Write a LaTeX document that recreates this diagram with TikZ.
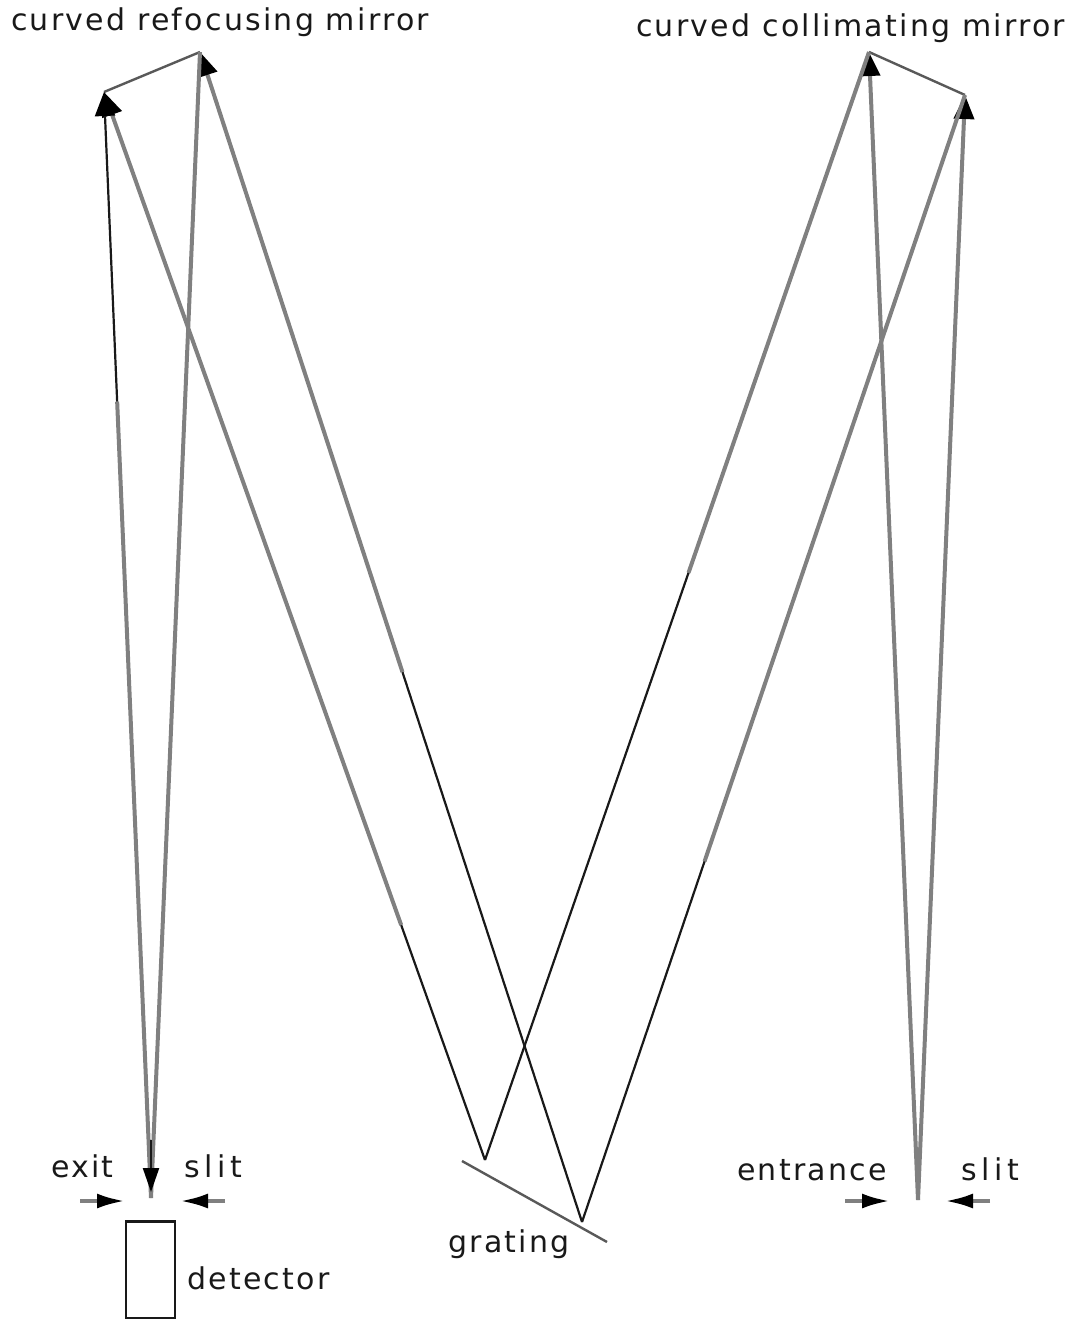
\documentclass[tikz,border=0pt]{standalone}
\usepackage{fontspec}
\setmainfont[LetterSpace=7.5]{DejaVu Sans}
\usetikzlibrary{
  arrows.meta,
  calc,
  positioning
}
\tikzset{
  >=stealth,
  line cap=round,
  line join=round,
  graybeam/.style={draw=black!50, line width=4pt},
  blackbeam/.style={draw=black!90, line width=2.2pt},
  mirrorline/.style={draw=black!65, line width=2.4pt},
  tiparrow/.style={-{Triangle[length=24pt, width=20pt, black]}},
  slitarrow/.style={graybeam, -{Latex[length=28pt, width=15pt, black]}},
  label/.style={inner sep=0pt, anchor=base west, text=black!90, font=\fontsize{30}{34}\selectfont},
  slitlabel/.style={label, font=\fontsize{30}{34}\selectfont\addfontfeature{LetterSpace=15}},
  detbox/.style={draw=black!90, line width=2.4pt, minimum width=49pt, minimum height=97pt, inner sep=0pt}
}
\begin{document}
\begin{tikzpicture}[x=1pt, y=-1pt]
    \useasboundingbox (0,0) rectangle (1078,1319);
    % fixed points of the beam
    \coordinate (entrance) at (918,1200);
    \coordinate (exit) at (151,1198);
    \coordinate (colA) at (869,52);
    \coordinate (colB) at (965,95);
    \coordinate (refA) at (104,92);
    \coordinate (refB) at (200,52);
    \coordinate (gratA) at (485,1160);
    \coordinate (gratB) at (582,1222);
    \coordinate (gratL) at (462,1161);
    \coordinate (gratR) at (607,1242);
    % where the beams change tone
    \coordinate (colAmid) at ($(colA)!0.47!(gratA)$);
    \coordinate (colBmid) at ($(colB)!0.68!(gratB)$);
    \coordinate (refAmid) at ($(refA)!0.78!(gratA)$);
    \coordinate (refBmid) at ($(refB)!0.53!(gratB)$);
    \coordinate (exitmid) at ($(refA)!0.28!(exit)$);
    % mirrors and grating
    \draw[mirrorline] (refA) -- (refB);
    \draw[mirrorline] (colA) -- (colB);
    \draw[mirrorline] (gratL) -- (gratR);
    % entrance slit to collimating mirror
    \draw[graybeam, tiparrow] (entrance) -- (colA);
    \draw[graybeam, tiparrow] (entrance) -- (colB);
    % collimating mirror to grating
    \draw[graybeam] (colA) -- (colAmid);
    \draw[blackbeam] (colAmid) -- (gratA);
    \draw[graybeam] (colB) -- (colBmid);
    \draw[blackbeam] (colBmid) -- (gratB);
    % grating to refocusing mirror
    \draw[blackbeam] (gratA) -- (refAmid);
    \draw[graybeam, tiparrow] (refAmid) -- (refA);
    \draw[blackbeam] (gratB) -- (refBmid);
    \draw[graybeam, tiparrow] (refBmid) -- (refB);
    % refocusing mirror to exit slit
    \draw[graybeam] (exit) -- (exitmid);
    \draw[blackbeam, tiparrow] (exitmid) -- (refA);
    \draw[graybeam] (refB) -- (exit);
    \coordinate (exittop) at (151,1140);
    \coordinate (exittip) at (151,1192);
    \draw[blackbeam, -{Triangle[length=24pt, width=16pt, black]}] (exittop) -- (exittip);
    % slit jaws
    \coordinate (exitL) at (80,1201);
    \coordinate (exitLtip) at (125,1201);
    \coordinate (exitR) at (225,1201);
    \coordinate (exitRtip) at (180,1201);
    \coordinate (entL) at (845,1201);
    \coordinate (entLtip) at (890,1201);
    \coordinate (entR) at (990,1201);
    \coordinate (entRtip) at (945,1201);
    \draw[slitarrow] (exitL) -- (exitLtip);
    \draw[slitarrow] (exitR) -- (exitRtip);
    \draw[slitarrow] (entL) -- (entLtip);
    \draw[slitarrow] (entR) -- (entRtip);
    % labels
    \node[label] (refocus) at (11,31) {curved refocusing mirror};
    \node[label] (collim) at (636,37) {curved collimating mirror};
    \node[label] (exitlabel) at (51,1177) {exit};
    \node[slitlabel] (exitslit) at (184,1177) {slit};
    \node[label] (entlabel) at (737,1180) {entrance};
    \node[slitlabel] (entslit) at (961,1180) {slit};
    \node[label] (gratlabel) at (448,1252) {grating};
    \node[detbox] (detector) at (150.5,1270) {};
    \node[label] (detlabel) at (187,1289) {detector};
\end{tikzpicture}
\end{document}
